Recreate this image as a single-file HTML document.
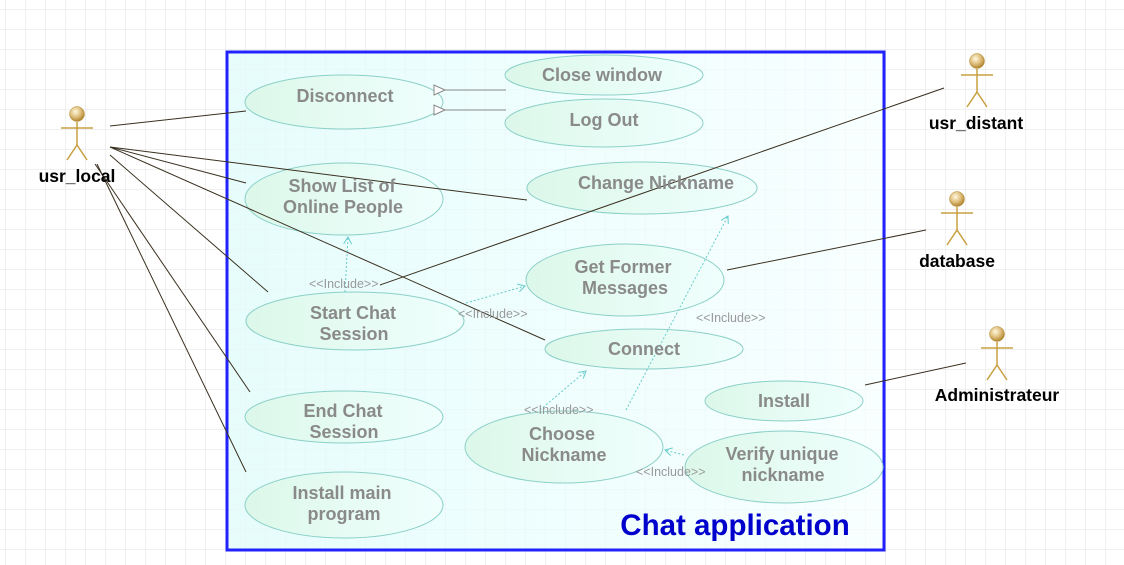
<!DOCTYPE html>
<html><head><meta charset="utf-8"><style>
html,body{margin:0;padding:0;background:#fff}
svg{display:block}
.uc{font-family:"Liberation Sans",sans-serif;font-weight:bold;font-size:18px;fill:#8a8a8a;text-anchor:middle}
.act{font-family:"Liberation Sans",sans-serif;font-weight:bold;font-size:17.5px;fill:#000;text-anchor:middle}
.inc{font-family:"Liberation Sans",sans-serif;font-size:12.5px;fill:#999}
</style></head><body>
<svg width="1124" height="565" viewBox="0 0 1124 565" xmlns="http://www.w3.org/2000/svg">
<defs>
<pattern id="g" x="6" y="10" width="20" height="20" patternUnits="userSpaceOnUse">
<path d="M20 0V20M0 20H20" stroke="#e2e2e2" stroke-width="1" fill="none"/>
</pattern>
<linearGradient id="bg" x1="0" x2="1"><stop offset="0" stop-color="#e6fdfc"/><stop offset="1" stop-color="#f8ffff"/></linearGradient>
<linearGradient id="el" x1="0" x2="1"><stop offset="0" stop-color="#dcf8ea"/><stop offset="1" stop-color="#f0fffd"/></linearGradient>
<radialGradient id="hd" cx="0.4" cy="0.35" r="0.7"><stop offset="0" stop-color="#fff8e0"/><stop offset="0.5" stop-color="#e0c080"/><stop offset="1" stop-color="#a87a20"/></radialGradient>
<marker id="oa" markerWidth="10" markerHeight="10" refX="9" refY="5" orient="auto" markerUnits="userSpaceOnUse"><path d="M2 1L9 5L2 9" fill="none" stroke="#6cc" stroke-width="1"/></marker>
<marker id="tri" markerWidth="14" markerHeight="12" refX="1" refY="6" orient="auto" markerUnits="userSpaceOnUse"><path d="M12 1L1 6L12 11Z" fill="#fff" stroke="#888" stroke-width="1"/></marker>
</defs>
<rect width="1124" height="565" fill="url(#g)"/>
<rect x="227" y="52" width="657" height="498" fill="url(#bg)"/>
<rect x="0" y="0" width="1124" height="565" fill="url(#g)" opacity="0.35"/>
<rect x="227" y="52" width="657" height="498" fill="none" stroke="#2222ff" stroke-width="3"/>

<g fill="url(#el)" stroke="#8cd0c8" stroke-width="1">
<ellipse cx="344" cy="102" rx="99" ry="27"/>
<ellipse cx="604" cy="75" rx="99" ry="20"/>
<ellipse cx="604" cy="123" rx="99" ry="24"/>
<ellipse cx="344" cy="199" rx="99" ry="36"/>
<ellipse cx="642" cy="188" rx="115" ry="26"/>
<ellipse cx="625" cy="280" rx="99" ry="36"/>
<ellipse cx="355" cy="321" rx="109" ry="29"/>
<ellipse cx="644" cy="349" rx="99" ry="20"/>
<ellipse cx="344" cy="417" rx="99" ry="26"/>
<ellipse cx="784" cy="401" rx="79" ry="20"/>
<ellipse cx="564" cy="447" rx="99" ry="36"/>
<ellipse cx="784" cy="467" rx="99" ry="36"/>
<ellipse cx="344" cy="505" rx="99" ry="33"/>
</g>

<g stroke="#3a3020" stroke-width="1" fill="none">
<line x1="110" y1="126" x2="246" y2="111"/>
<line x1="110" y1="147" x2="527" y2="200"/>
<line x1="110" y1="147" x2="246" y2="183"/>
<line x1="110" y1="147" x2="545" y2="340"/>
<line x1="110" y1="155" x2="268" y2="292"/>
<line x1="95" y1="164" x2="250" y2="392"/>
<line x1="97" y1="164" x2="246" y2="472"/>
<line x1="380" y1="285" x2="944" y2="88"/>
<line x1="727" y1="270" x2="926" y2="230"/>
<line x1="865" y1="385" x2="966" y2="363"/>
</g>
<g stroke="#888" stroke-width="1">
<line x1="506" y1="90" x2="445" y2="90" marker-end="url(#tri)"/>
<line x1="506" y1="110" x2="445" y2="110" marker-end="url(#tri)"/>
</g>
<g stroke="#6cc" stroke-width="1" stroke-dasharray="2,2" fill="none">
<line x1="345" y1="292" x2="348" y2="237" marker-end="url(#oa)"/>
<line x1="466" y1="303" x2="525" y2="286" marker-end="url(#oa)"/>
<line x1="540" y1="410" x2="586" y2="371" marker-end="url(#oa)"/>
<line x1="626" y1="410" x2="728" y2="216" marker-end="url(#oa)"/>
<line x1="684" y1="455" x2="665" y2="450" marker-end="url(#oa)"/>
</g>
<g class="inc">
<text x="309" y="288">&lt;&lt;Include&gt;&gt;</text>
<text x="458" y="318">&lt;&lt;Include&gt;&gt;</text>
<text x="696" y="322">&lt;&lt;Include&gt;&gt;</text>
<text x="524" y="414">&lt;&lt;Include&gt;&gt;</text>
<text x="636" y="476">&lt;&lt;Include&gt;&gt;</text>
</g>

<g class="uc">
<text x="345" y="102">Disconnect</text>
<text x="602" y="81">Close window</text>
<text x="604" y="126">Log Out</text>
<text x="342" y="192">Show List of</text>
<text x="343" y="213">Online People</text>
<text x="656" y="189">Change Nickname</text>
<text x="623" y="273">Get Former</text>
<text x="625" y="294">Messages</text>
<text x="353" y="319">Start Chat</text>
<text x="354" y="340">Session</text>
<text x="644" y="355">Connect</text>
<text x="343" y="417">End Chat</text>
<text x="344" y="438">Session</text>
<text x="784" y="407">Install</text>
<text x="562" y="440">Choose</text>
<text x="564" y="461">Nickname</text>
<text x="782" y="460">Verify unique</text>
<text x="783" y="481">nickname</text>
<text x="342" y="499">Install main</text>
<text x="344" y="520">program</text>
</g>
<text x="735" y="535" font-family="Liberation Sans,sans-serif" font-weight="bold" font-size="29.5" fill="#0000cc" text-anchor="middle">Chat application</text>

<g stroke="#c8a040" stroke-width="1.5" fill="none">
<g transform="translate(77,114)"><line x1="0" y1="8" x2="0" y2="31"/><line x1="-16" y1="14" x2="16" y2="14"/><path d="M-10 46L0 31L10 46"/></g>
<g transform="translate(977,61)"><line x1="0" y1="8" x2="0" y2="31"/><line x1="-16" y1="14" x2="16" y2="14"/><path d="M-10 46L0 31L10 46"/></g>
<g transform="translate(957,199)"><line x1="0" y1="8" x2="0" y2="31"/><line x1="-16" y1="14" x2="16" y2="14"/><path d="M-10 46L0 31L10 46"/></g>
<g transform="translate(997,334)"><line x1="0" y1="8" x2="0" y2="31"/><line x1="-16" y1="14" x2="16" y2="14"/><path d="M-10 46L0 31L10 46"/></g>
</g>
<g fill="url(#hd)" stroke="#b08a30" stroke-width="0.5">
<circle cx="77" cy="114" r="7.5"/><circle cx="977" cy="61" r="7.5"/><circle cx="957" cy="199" r="7.5"/><circle cx="997" cy="334" r="7.5"/>
</g>
<g class="act">
<text x="77" y="182">usr_local</text>
<text x="976" y="129">usr_distant</text>
<text x="957" y="267">database</text>
<text x="997" y="401">Administrateur</text>
</g>
</svg>
</body></html>
